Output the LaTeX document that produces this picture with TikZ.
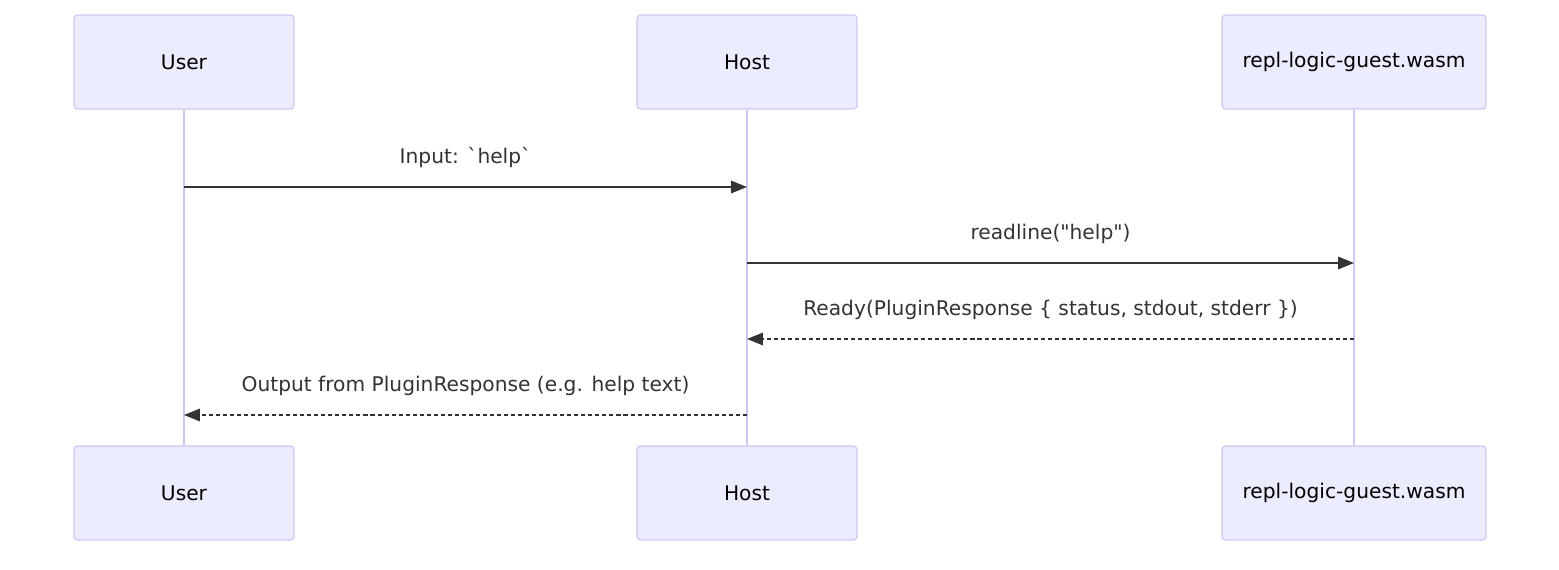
\documentclass[tikz,border=0pt]{standalone}
\usepackage{fontspec}
\setmainfont{DejaVu Sans}
\usepackage{xcolor}
\usetikzlibrary{positioning,%
  arrows.meta,%
  calc
}
\definecolor{actorfill}{HTML}{ECECFF}
\definecolor{actorline}{HTML}{D2C4F4}
\definecolor{msgline}{HTML}{333333}
\tikzset{
  actor/.style={draw=actorline, fill=actorfill, line width=0.7pt, rounded corners=2pt,
    minimum height=1.88cm, inner sep=0pt, font=\fontsize{11.5}{13}\selectfont},
  lifeline/.style={draw=actorline, line width=1.4pt},
  msg/.style={draw=msgline, line width=1pt, -{Triangle[length=9pt,width=7pt]}},
  reply/.style={msg, dash pattern=on 2.3pt off 1.7pt},
  msglabel/.style={midway, yshift=0.59cm, text=msgline, font=\fontsize{11.5}{13}\selectfont}
}
\begin{document}
\begin{tikzpicture}[x=0.02cm, y=-0.02cm]
  \useasboundingbox (0,0) rectangle (1559,570);
  % actors
  \node[actor, minimum width=4.4cm] (user) at (184,62) {User};
  \node[actor, minimum width=4.4cm] (host) at (747,62) {Host};
  \node[actor, minimum width=5.28cm] (guest) at (1354,62) {repl-logic-guest.wasm};
  \node[actor, minimum width=4.4cm] (userb) at (184,493) {User};
  \node[actor, minimum width=4.4cm] (hostb) at (747,493) {Host};
  \node[actor, minimum width=5.28cm] (guestb) at (1354,493) {repl-logic-guest.wasm};

  % lifelines
  \draw[lifeline] (user) -- (userb);
  \draw[lifeline] (host) -- (hostb);
  \draw[lifeline] (guest) -- (guestb);

  % message rows
  \coordinate (m1) at (0,187);
  \coordinate (m2) at (0,263);
  \coordinate (m3) at (0,339);
  \coordinate (m4) at (0,415);

  \draw[msg] (user |- m1) -- (host |- m1) node[msglabel] {Input: \textasciigrave help\textasciigrave};
  \draw[msg] (host |- m2) -- (guest |- m2) node[msglabel] {readline(\textquotedbl help\textquotedbl)};
  \draw[reply] (guest |- m3) -- (host |- m3) node[msglabel] {Ready(PluginResponse \{ status, stdout, stderr \})};
  \draw[reply] (host |- m4) -- (user |- m4) node[msglabel] {Output from PluginResponse (e.g. help text)};
\end{tikzpicture}
\end{document}
